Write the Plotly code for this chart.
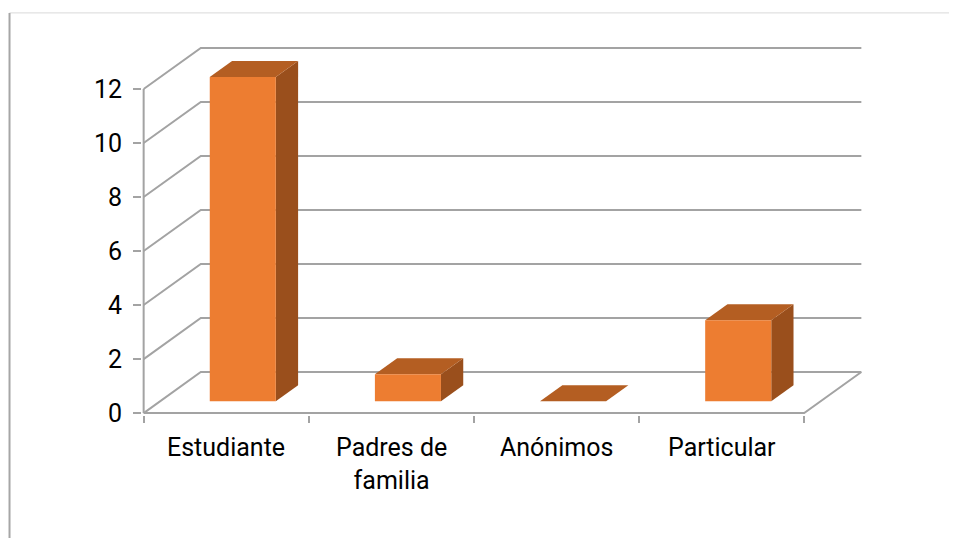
import plotly.graph_objects as go

# ---- data ----
categories = ["Estudiante", "Padres de<br>familia", "Anónimos", "Particular"]
values = [12, 1, 0, 3]
y_tick_values = [0, 2, 4, 6, 8, 10, 12]
y_tick_labels = ["0", "2", "4", "6", "8", "10", "12"]

# ---- 3D (oblique) projection styling ----
DX = 0.346      # depth shift in category units
DY = 1.52       # depth shift in value units
D0, D1 = 0.29, 0.68   # bar depth span (fraction of floor depth)
BAR_W = 0.4
FRONT = "#ED7D31"
TOP = "#B45E22"
SIDE = "#9A4F1C"
GRID = "#A3A3A3"
FONT = "Roboto, Liberation Sans, sans-serif"

OFF = 8          # page body margin of the html page
W, H = 957 - OFF, 538 - OFF
n = len(categories)
ymax = max(y_tick_values)


def proj(x, y, d):
    return x + d * DX, y + d * DY


fig = go.Figure()

# grid: back wall, left wall, floor
gx, gy = [], []
for v in y_tick_values:
    a = proj(0, v, 1)
    b = proj(n, v, 1)
    c = proj(0, v, 0)
    gx += [c[0], a[0], b[0], None]
    gy += [c[1], a[1], b[1], None]
p0 = proj(0, 0, 0); p1 = proj(n, 0, 0); p2 = proj(n, 0, 1)
gx += [p0[0], p1[0], p2[0], None]
gy += [p0[1], p1[1], p2[1], None]
q0 = proj(0, 0, 0); q1 = proj(0, ymax, 0)
gx += [q0[0], q1[0], None]
gy += [q0[1], q1[1], None]
fig.add_trace(go.Scatter(x=gx, y=gy, mode="lines",
                         line=dict(color=GRID, width=2),
                         hoverinfo="skip", showlegend=False))


def poly(pts, color):
    xs = [p[0] for p in pts] + [pts[0][0]]
    ys = [p[1] for p in pts] + [pts[0][1]]
    fig.add_trace(go.Scatter(x=xs, y=ys, mode="lines", fill="toself",
                             fillcolor=color, line=dict(width=0, color=color),
                             hoverinfo="skip", showlegend=False))


for i, v in enumerate(values):
    x0 = i + 0.5 - BAR_W / 2
    x1 = i + 0.5 + BAR_W / 2
    side = [proj(x1, 0, D0), proj(x1, 0, D1), proj(x1, v, D1), proj(x1, v, D0)]
    top = [proj(x0, v, D0), proj(x1, v, D0), proj(x1, v, D1), proj(x0, v, D1)]
    front = [proj(x0, 0, D0), proj(x1, 0, D0), proj(x1, v, D0), proj(x0, v, D0)]
    if v > 0:
        poly(side, SIDE)
    poly(top, TOP)
    if v > 0:
        poly(front, FRONT)

# category labels
for i, c in enumerate(categories):
    fig.add_annotation(x=i + 0.5, y=0, xref="x", yref="y", text=c,
                       showarrow=False, yanchor="top", yshift=-18,
                       font=dict(family=FONT, size=25, color="#000000"))

# pixel layout (screen pixels minus page offset)
front_left_px, back_right_px = 144 - OFF, 861 - OFF
zero_px, unit_px = 413 - OFF, 27
ux = (back_right_px - front_left_px) / (n + DX)
xr = [-0.01, n + DX + 0.01]
yr = [-0.07, ymax + DY + 0.07]
l = front_left_px + xr[0] * ux
r = W - (front_left_px + xr[1] * ux)
t = zero_px - yr[1] * unit_px
b = H - (zero_px - yr[0] * unit_px)
pw = W - l - r
ph = H - t - b


def px2paper(px, py):
    return (px - OFF - l) / pw, (H - b - (py - OFF)) / ph


# outer chart border (partial frame visible in the reference)
tl = px2paper(10, 13); tr = px2paper(957, 13); bl = px2paper(10, 538)
fig.add_shape(type="line", xref="paper", yref="paper", x0=tl[0], y0=tl[1],
              x1=tr[0], y1=tr[1], line=dict(color="#D9D9D9", width=1))
fig.add_shape(type="line", xref="paper", yref="paper", x0=tl[0], y0=tl[1],
              x1=bl[0], y1=bl[1], line=dict(color="#A6A6A6", width=2))

fig.update_layout(
    width=W, height=H,
    margin=dict(l=l, r=r, t=t, b=b, pad=0, autoexpand=False),
    plot_bgcolor="white", paper_bgcolor="white",
    showlegend=False,
    xaxis=dict(range=xr, showgrid=False, zeroline=False, showline=False,
               tickmode="array", tickvals=list(range(n + 1)),
               showticklabels=False, ticks="outside", ticklen=7,
               tickcolor=GRID, tickwidth=1.5, fixedrange=True),
    yaxis=dict(range=yr, showgrid=False, zeroline=False, showline=False,
               tickmode="array", tickvals=y_tick_values, ticktext=y_tick_labels,
               ticks="outside", ticklen=8, tickcolor=GRID, tickwidth=1.5,
               ticklabelstandoff=6,
               tickfont=dict(family=FONT, size=25, color="#000000"),
               fixedrange=True),
)

fig.write_html("out.html")
